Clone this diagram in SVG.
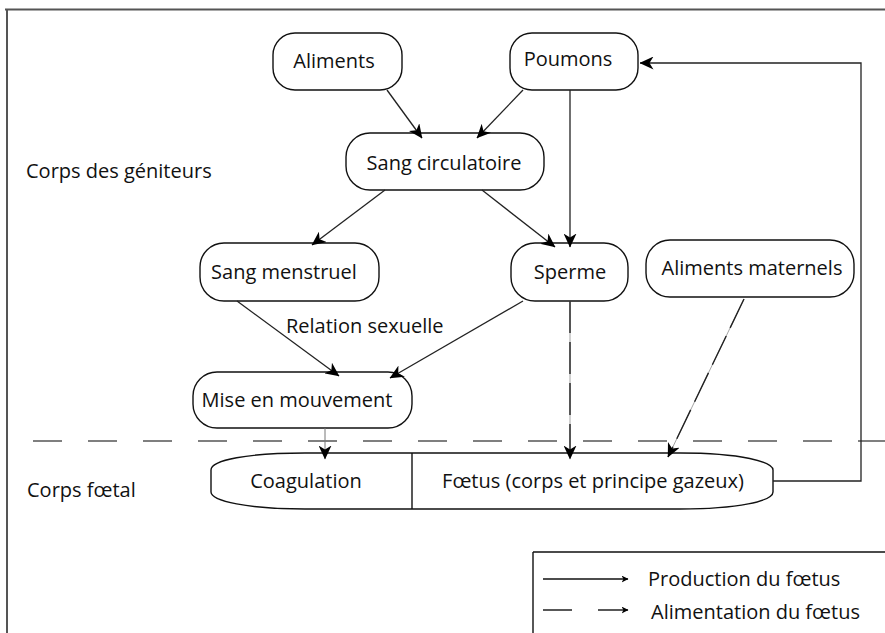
<svg xmlns="http://www.w3.org/2000/svg" width="885" height="633" viewBox="0 0 885 633">
<style>
  text { font-family: "Open Sans", "Noto Sans", "Liberation Sans", sans-serif; font-size: 20px; fill: #111; }
  .box { fill: #fff; stroke: #111; stroke-width: 1.4; }
  .mid { text-anchor: middle; }
  .conn { fill: none; stroke: #222; stroke-width: 1.3; }
  .feed-base { fill: none; stroke: #999; stroke-width: 0.9; }
  .feed { fill: none; stroke: #222; stroke-width: 1.4; stroke-dasharray: 32 9; }
  .frame { fill: none; stroke: #555; stroke-width: 2; }
  .sep { fill: none; stroke: #555; stroke-width: 1.6; stroke-dasharray: 29 26; }
</style>
<defs>
  <marker id="ah" viewBox="0 0 14 13" refX="13.5" refY="6.5" markerWidth="14" markerHeight="13" markerUnits="userSpaceOnUse" orient="auto">
    <path d="M0,0 L14,6.5 L0,13 L4,6.5 Z" fill="#000"/>
  </marker>
  <marker id="ahs" viewBox="0 0 7 7" refX="6.5" refY="3.5" markerWidth="7" markerHeight="7" markerUnits="userSpaceOnUse" orient="auto">
    <path d="M0,0 L7,3.5 L0,7 L2,3.5 Z" fill="#000"/>
  </marker>
</defs>

<!-- frame -->
<path class="frame" d="M5,9.5 H885 M7,9 V633"/>

<!-- region labels -->
<text x="26" y="178">Corps des géniteurs</text>
<text x="27" y="497">Corps fœtal</text>

<!-- separator -->
<line class="sep" x1="33" y1="441" x2="885" y2="441"/>

<!-- nodes -->
<g id="aliments">
  <rect class="box" x="273" y="33" width="129" height="57" rx="22"/>
  <text class="mid" x="334" y="68">Aliments</text>
</g>
<g id="poumons">
  <rect class="box" x="510" y="33" width="128" height="57" rx="22"/>
  <text class="mid" x="568" y="66">Poumons</text>
</g>
<g id="sang-circulatoire">
  <rect class="box" x="346" y="133" width="198" height="57" rx="24"/>
  <text class="mid" x="444" y="170">Sang circulatoire</text>
</g>
<g id="sang-menstruel">
  <rect class="box" x="200" y="243" width="179" height="58" rx="24"/>
  <text class="mid" x="284" y="279">Sang menstruel</text>
</g>
<g id="sperme">
  <rect class="box" x="511" y="243" width="117" height="58" rx="24"/>
  <text class="mid" x="570" y="279">Sperme</text>
</g>
<g id="aliments-maternels">
  <rect class="box" x="646" y="240" width="208" height="57" rx="24"/>
  <text class="mid" x="752" y="275">Aliments maternels</text>
</g>
<g id="mise-en-mouvement">
  <rect class="box" x="193" y="372" width="219" height="56" rx="24"/>
  <text class="mid" x="297" y="407">Mise en mouvement</text>
</g>
<g id="corps-foetal">
  <path class="box" d="M211,470 C211,460 248,453 305,453 L680,453 C742,453 773,462 773,470 L773,492 C773,501 738,509 680,509 L305,509 C248,509 211,501 211,492 Z"/>
  <line x1="412" y1="453" x2="412" y2="509" stroke="#111" stroke-width="1.4"/>
  <g id="coagulation">
    <text class="mid" x="306" y="488">Coagulation</text>
  </g>
  <g id="foetus">
    <text class="mid" x="593" y="488">Fœtus (corps et principe gazeux)</text>
  </g>
</g>

<!-- connectors -->
<g id="connectors">
  <line class="conn" x1="387" y1="90" x2="422" y2="138" marker-end="url(#ah)"/>
  <line class="conn" x1="523" y1="90" x2="477" y2="138" marker-end="url(#ah)"/>
  <line class="conn" x1="570" y1="90" x2="570" y2="247" marker-end="url(#ah)"/>
  <line class="conn" x1="385" y1="190" x2="312" y2="245" marker-end="url(#ah)"/>
  <line class="conn" x1="482" y1="190" x2="555" y2="247" marker-end="url(#ah)"/>
  <line class="conn" x1="237" y1="301" x2="339" y2="376" marker-end="url(#ah)"/>
  <line class="conn" x1="523" y1="301" x2="390" y2="378" marker-end="url(#ah)"/>
  <text x="286" y="333">Relation sexuelle</text>
  <line x1="325" y1="428" x2="325" y2="459" stroke="#777" stroke-width="1" marker-end="url(#ah)"/>
  <line class="feed-base" x1="570" y1="301" x2="570" y2="459"/>
  <line class="feed" x1="570" y1="301" x2="570" y2="459" marker-end="url(#ah)"/>
  <line class="feed-base" x1="744" y1="299" x2="668" y2="457"/>
  <line class="feed" x1="744" y1="299" x2="668" y2="457" marker-end="url(#ah)"/>
  <polyline class="conn" stroke="#444" points="773,481 861,481 861,63 640,63" marker-end="url(#ah)"/>
</g>

<!-- legend -->
<g id="legend">
  <path d="M533,552 H885 M533,552 V633" fill="none" stroke="#111" stroke-width="1.4"/>
  <line x1="543" y1="579" x2="628" y2="579" stroke="#111" stroke-width="1.4" marker-end="url(#ahs)"/>
  <text x="648" y="586">Production du fœtus</text>
  <line x1="543" y1="610" x2="572" y2="610" stroke="#111" stroke-width="1.4"/>
  <line x1="598" y1="610" x2="628" y2="610" stroke="#111" stroke-width="1.4" marker-end="url(#ahs)"/>
  <text x="651" y="619">Alimentation du fœtus</text>
</g>
</svg>
